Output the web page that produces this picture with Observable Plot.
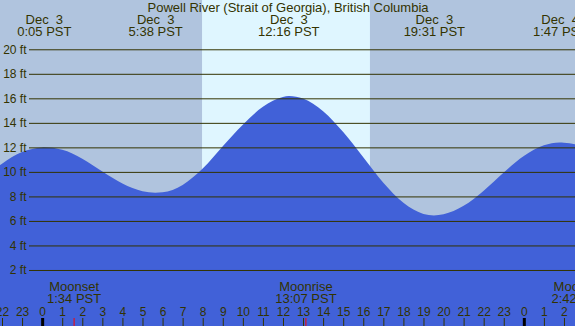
<!DOCTYPE html>
<html><head><meta charset="utf-8">
<script src="https://cdn.jsdelivr.net/npm/d3@7"></script>
<script src="https://cdn.jsdelivr.net/npm/@observablehq/plot@0.6"></script>
<style>
html,body{margin:0;padding:0;background:#fff;}
svg text{white-space:pre;}
</style></head><body><div id="chart"></div>
<script>
const title = "Powell River (Strait of Georgia), British Columbia";
// tide heights (ft), by hour from Dec 3 00:00 PST
const tideHours = [-3,-2,-1,0,0.083,1,2,3,4,5,5.633,6,7,8,9,10,11,12,12.3,13,14,15,16,17,18,19,19.517,20,21,22,23,24,25,25.783,26,27];
const tideFeet  = [9.35,10.67,11.62,11.99,12.0,11.8,11.08,10.03,9.05,8.42,8.3,8.33,8.94,10.27,12.09,13.85,15.31,16.11,16.2,15.98,14.95,13.25,11.2,9.12,7.48,6.57,6.45,6.54,7.23,8.47,9.95,11.29,12.17,12.4,12.38,12.1];
const extremeHours = [0.083, 5.633, 12.267, 19.517, 25.783];
const extremeDates = ["Dec  3","Dec  3","Dec  3","Dec  3","Dec  4"];
const extremeTimes = ["0:05 PST","5:38 PST","12:16 PST","19:31 PST","1:47 PST"];
const moonHours = [1.567, 13.117, 26.7];
const moonEvents = ["Moonset","Moonrise","Moonset"];
const moonTimes = ["1:34 PST","13:07 PST","2:42 PST"];
const sunHours = [7.967, 16.333];
const gridFeet = [2,4,6,8,10,12,14,16,18,20];
const gridLabels = ["2 ft","4 ft","6 ft","8 ft","10 ft","12 ft","14 ft","16 ft","18 ft","20 ft"];
const hourTicks = [-2,-1,0,1,2,3,4,5,6,7,8,9,10,11,12,13,14,15,16,17,18,19,20,21,22,23,24,25,26,27];
const hourLabels = ["22","23","0","1","2","3","4","5","6","7","8","9","10","11","12","13","14","15","16","17","18","19","20","21","22","23","0","1","2","3"];
const midnights = [0, 24];
const xDomain = [-2.10, 26.55];
const yDomain = [-2.57, 24.02];

const tide = tideHours.map((h, i) => ({h, v: tideFeet[i]}));
const ink = "#333300";
const txt = {fill: ink, lineAnchor: "middle"};

const chart = Plot.plot({
  width: 575, height: 326,
  margin: 0,
  x: {domain: xDomain, axis: null},
  y: {domain: yDomain, axis: null},
  style: {background: "#b0c4de", fontFamily: "'Liberation Sans', Arial, sans-serif", fontSize: "13px"},
  marks: [
    Plot.rect([sunHours], {x1: d => d[0], x2: d => d[1], fill: "#dff6ff"}),
    Plot.area(tide, {x1: "h", y1: () => yDomain[0], y2: "v", curve: "monotone-x", fill: "#4161d8", clip: true}),
    Plot.ruleY(gridFeet, {y: d => d, stroke: ink, insetLeft: 29}),
    Plot.text(gridFeet, {...txt, y: d => d, text: (d, i) => gridLabels[i], frameAnchor: "left", dx: 26, textAnchor: "end", fontSize: 12}),
    Plot.text([title], {...txt, text: d => d, frameAnchor: "top", dy: 7.5}),
    Plot.text(extremeHours, {...txt, x: d => d, text: (d, i) => extremeDates[i], frameAnchor: "top", dy: 19.5}),
    Plot.text(extremeHours, {...txt, x: d => d, text: (d, i) => extremeTimes[i], frameAnchor: "top", dy: 31.7}),
    Plot.text(moonHours, {...txt, x: d => d, text: (d, i) => moonEvents[i], frameAnchor: "bottom", dy: -39.2}),
    Plot.text(moonHours, {...txt, x: d => d, text: (d, i) => moonTimes[i], frameAnchor: "bottom", dy: -27.3}),
    Plot.text(hourTicks, {...txt, x: d => d, text: (d, i) => hourLabels[i], frameAnchor: "bottom", dy: -14.3, fontSize: 12}),
    Plot.ruleX(hourTicks, {x: d => d, insetTop: 318, stroke: ink}),
    Plot.ruleX(midnights, {x: d => d, insetTop: 318, stroke: "#000", strokeWidth: 3}),
    Plot.ruleX(moonHours, {x: d => d, insetTop: 318, stroke: "red"})
  ]
});
document.getElementById("chart").appendChild(chart);
</script></body></html>
